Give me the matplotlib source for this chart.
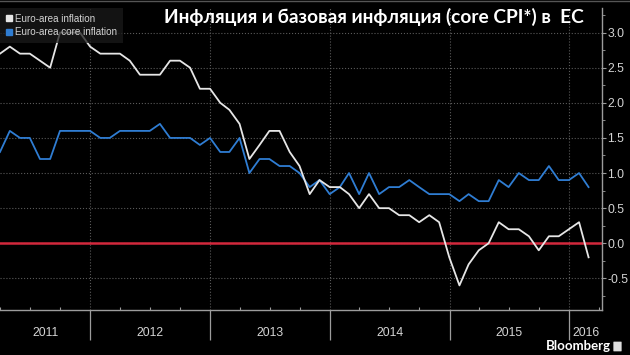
import matplotlib
matplotlib.use('Agg')
import matplotlib.pyplot as plt
import matplotlib.dates as mdates
import pandas as pd
from matplotlib import font_manager
from matplotlib.lines import Line2D
from matplotlib.patches import FancyBboxPatch
from matplotlib.ticker import FormatStrFormatter, MultipleLocator

# monthly data, Mar 2011 - Feb 2016 (month end)
months = pd.date_range('2011-03-31', '2016-02-29', freq='ME')
headline = [2.7, 2.8, 2.7, 2.7, 2.6, 2.5, 3.0, 3.0, 3.0, 2.8,
            2.7, 2.7, 2.7, 2.6, 2.4, 2.4, 2.4, 2.6, 2.6, 2.5, 2.2, 2.2,
            2.0, 1.9, 1.7, 1.2, 1.4, 1.6, 1.6, 1.3, 1.1, 0.7, 0.9, 0.8,
            0.8, 0.7, 0.5, 0.7, 0.5, 0.5, 0.4, 0.4, 0.3, 0.4, 0.3, -0.2,
            -0.6, -0.3, -0.1, 0.0, 0.3, 0.2, 0.2, 0.1, -0.1, 0.1, 0.1, 0.2,
            0.3, -0.2]
core = [1.3, 1.6, 1.5, 1.5, 1.2, 1.2, 1.6, 1.6, 1.6, 1.6,
        1.5, 1.5, 1.6, 1.6, 1.6, 1.6, 1.7, 1.5, 1.5, 1.5, 1.4, 1.5,
        1.3, 1.3, 1.5, 1.0, 1.2, 1.2, 1.1, 1.1, 1.0, 0.8, 0.9, 0.7,
        0.8, 1.0, 0.7, 1.0, 0.7, 0.8, 0.8, 0.9, 0.8, 0.7, 0.7, 0.7,
        0.6, 0.7, 0.6, 0.6, 0.9, 0.8, 1.0, 0.9, 0.9, 1.1, 0.9, 0.9,
        1.0, 0.8]
years = [2011, 2012, 2013, 2014, 2015, 2016]
title = 'Инфляция и базовая инфляция (core CPI*) в  ЕС'

WHITE = '#e6e6e6'
BLUE = '#2f7dd3'
RED = '#d2283c'
GRID = '#5a5a5a'
AXIS = '#9c9c9c'
TXT = '#d4d4d4'

# narrow font for the Bloomberg-style labels, if there is one
installed = {f.name for f in font_manager.fontManager.ttflist}
if 'Liberation Sans Narrow' in installed:
    narrow, small = 'Liberation Sans Narrow', 1.0
else:
    narrow, small = 'Liberation Sans', 0.88

fig = plt.figure(figsize=(6.3, 3.55), dpi=100, facecolor='black')
ax = fig.add_axes([0, 45 / 355, 602 / 630, 302 / 355])
ax.set_facecolor('black')

ax.axhline(0, color=RED, lw=1.8, zorder=2)
ax.plot(months, core, color=BLUE, lw=1.3, zorder=3)
ax.plot(months, headline, color=WHITE, lw=1.3, zorder=4)

xmin, xmax = pd.Timestamp('2011-03-31'), pd.Timestamp('2016-04-10')
ax.set_xlim(xmin, xmax)
ax.set_ylim(-0.95, 3.35)

# y axis on the right
ax.yaxis.tick_right()
ax.yaxis.set_major_locator(MultipleLocator(0.5))
ax.yaxis.set_minor_locator(MultipleLocator(0.25))
ax.yaxis.set_major_formatter(FormatStrFormatter('%.1f'))
ax.tick_params(axis='y', which='major', length=3, width=0.8, color=AXIS,
               labelcolor=TXT, labelsize=10 * small, pad=1)
ax.tick_params(axis='y', which='minor', length=2, width=0.6, color=AXIS)
for lab in ax.get_yticklabels():
    lab.set_family(narrow)

# x axis: year separators + quarter ticks
ax.xaxis.set_major_locator(mdates.YearLocator())
ax.xaxis.set_minor_locator(mdates.MonthLocator(bymonth=[4, 7, 10]))
ax.tick_params(axis='x', which='major', length=21.6, width=0.9, color=AXIS,
               labelbottom=False, direction='out')
ax.tick_params(axis='x', which='minor', length=2, width=0.8, color=AXIS,
               direction='in')

ax.grid(True, which='major', color=GRID, ls=':', lw=0.8)
for s in ['left', 'top']:
    ax.spines[s].set_visible(False)
for s in ['right', 'bottom']:
    ax.spines[s].set_color(AXIS)
    ax.spines[s].set_linewidth(1.0)

# year labels centred on the visible part of each year
for y in years:
    a = max(pd.Timestamp(f'{y}-01-01'), xmin)
    b = min(pd.Timestamp(f'{y + 1}-01-01'), xmax)
    mid = a + (b - a) / 2
    ax.text(mid, -0.076, str(y), transform=ax.get_xaxis_transform(),
            ha='center', va='center', color=TXT, fontsize=10 * small,
            family=narrow)

handles = [Line2D([], [], marker='s', ls='', color=WHITE, markersize=4.5),
           Line2D([], [], marker='s', ls='', color=BLUE, markersize=4.5)]
leg = ax.legend(handles, ['Euro-area inflation', 'Euro-area core inflation'],
                loc='upper left', bbox_to_anchor=(0, 1.0),
                fontsize=8.1 * small, frameon=True, facecolor='#1a1a1a',
                edgecolor='none', framealpha=0.75, borderpad=0.6,
                labelspacing=0.35, handlelength=0.6, handletextpad=0.3,
                borderaxespad=0.0)
leg.get_frame().set_boxstyle('square', pad=0)
for t in leg.get_texts():
    t.set_color(TXT)
    t.set_family(narrow)
leg.set_zorder(5)

fig.text(584 / 630, 1 - 17 / 355, title, ha='right', va='center',
         color='white', fontsize=13.8, fontweight='bold', family='Lato')

fig.text(611 / 630, 1 - 346 / 355, 'Bloomberg', ha='right', va='center',
         color='white', fontsize=9.5, fontweight='bold', family='Lato')
fig.patches.append(FancyBboxPatch((614 / 630, 1 - 351 / 355), 7 / 630, 9 / 355,
                                  boxstyle='round,pad=0.001', fc='#dddddd',
                                  ec='none', transform=fig.transFigure))

fig.add_artist(Line2D([0, 1], [0.998, 0.998], color='#555555', lw=1,
                      transform=fig.transFigure))

fig.savefig('out.png', dpi=100, facecolor='black')
